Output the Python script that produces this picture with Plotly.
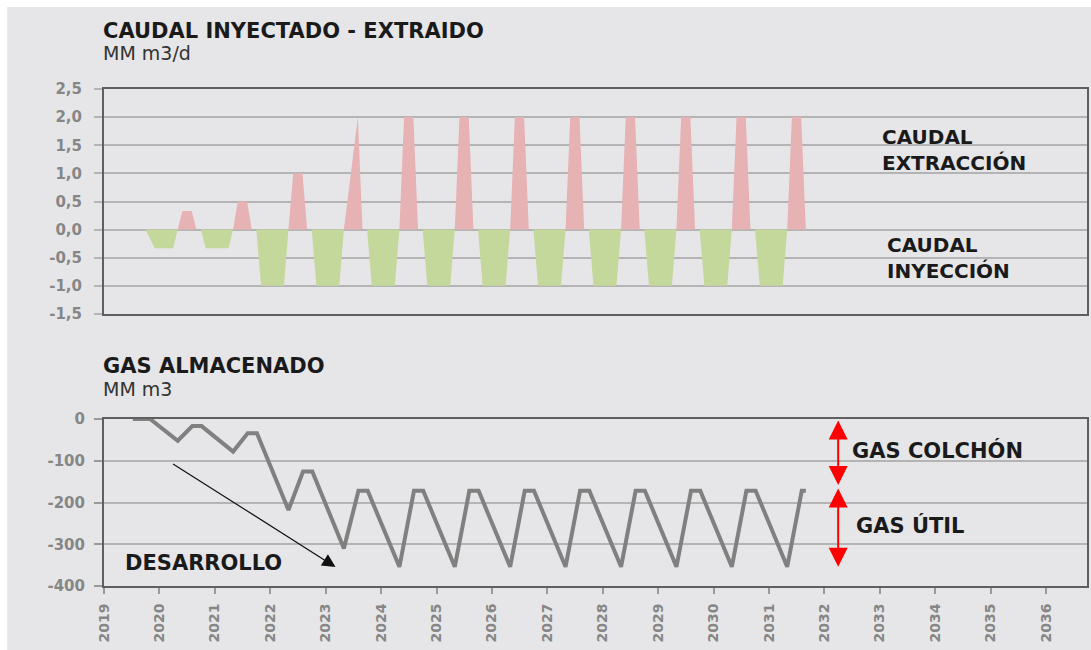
import pandas as pd
import plotly.graph_objects as go

# ---------------------------------------------------------------- data
# Monthly flow rates (MM m3/d), one row per gas year: Oct .. Sep
month_start = "2019-10-01"
month_end = "2031-09-01"

injection_rows = [
    [0, -0.17, -0.33, -0.33, -0.33, -0.33, -0.33, 0, 0, 0, 0, 0],   # 2019-20
    [0, -0.33, -0.33, -0.33, -0.33, -0.33, -0.33, 0, 0, 0, 0, 0],   # 2020-21
    [0, -1.0, -1.0, -1.0, -1.0, -1.0, -1.0, 0, 0, 0, 0, 0],         # 2021-22
    [0, -1.0, -1.0, -1.0, -1.0, -1.0, -1.0, 0, 0, 0, 0, 0],         # 2022-23
    [0, -1.0, -1.0, -1.0, -1.0, -1.0, -1.0, 0, 0, 0, 0, 0],         # 2023-24
    [0, -1.0, -1.0, -1.0, -1.0, -1.0, -1.0, 0, 0, 0, 0, 0],         # 2024-25
    [0, -1.0, -1.0, -1.0, -1.0, -1.0, -1.0, 0, 0, 0, 0, 0],         # 2025-26
    [0, -1.0, -1.0, -1.0, -1.0, -1.0, -1.0, 0, 0, 0, 0, 0],         # 2026-27
    [0, -1.0, -1.0, -1.0, -1.0, -1.0, -1.0, 0, 0, 0, 0, 0],         # 2027-28
    [0, -1.0, -1.0, -1.0, -1.0, -1.0, -1.0, 0, 0, 0, 0, 0],         # 2028-29
    [0, -1.0, -1.0, -1.0, -1.0, -1.0, -1.0, 0, 0, 0, 0, 0],         # 2029-30
    [0, -1.0, -1.0, -1.0, -1.0, -1.0, -1.0, 0, 0, 0, 0, 0],         # 2030-31
]

extraction_rows = [
    [0, 0, 0, 0, 0, 0, 0, 0, 0.33, 0.33, 0.33, 0],   # 2019-20
    [0, 0, 0, 0, 0, 0, 0, 0, 0.5, 0.5, 0.5, 0],      # 2020-21
    [0, 0, 0, 0, 0, 0, 0, 0, 1.0, 1.0, 1.0, 0],      # 2021-22
    [0, 0, 0, 0, 0, 0, 0, 0, 0.67, 1.33, 2.0, 0],    # 2022-23
    [0, 0, 0, 0, 0, 0, 0, 0, 2.0, 2.0, 2.0, 0],      # 2023-24
    [0, 0, 0, 0, 0, 0, 0, 0, 2.0, 2.0, 2.0, 0],      # 2024-25
    [0, 0, 0, 0, 0, 0, 0, 0, 2.0, 2.0, 2.0, 0],      # 2025-26
    [0, 0, 0, 0, 0, 0, 0, 0, 2.0, 2.0, 2.0, 0],      # 2026-27
    [0, 0, 0, 0, 0, 0, 0, 0, 2.0, 2.0, 2.0, 0],      # 2027-28
    [0, 0, 0, 0, 0, 0, 0, 0, 2.0, 2.0, 2.0, 0],      # 2028-29
    [0, 0, 0, 0, 0, 0, 0, 0, 2.0, 2.0, 2.0, 0],      # 2029-30
    [0, 0, 0, 0, 0, 0, 0, 0, 2.0, 2.0, 2.0, 0],      # 2030-31
]

# Stored gas (MM m3), turning points of the curve
gas_dates = [
    "2019-07-10", "2019-11-01",
    "2020-05-01", "2020-08-05", "2020-10-05",
    "2021-05-01", "2021-08-05", "2021-10-05",
    "2022-05-01", "2022-08-05", "2022-10-05",
    "2023-05-01", "2023-08-05", "2023-10-05",
    "2024-05-01", "2024-08-05", "2024-10-05",
    "2025-05-01", "2025-08-05", "2025-10-05",
    "2026-05-01", "2026-08-05", "2026-10-05",
    "2027-05-01", "2027-08-05", "2027-10-05",
    "2028-05-01", "2028-08-05", "2028-10-05",
    "2029-05-01", "2029-08-05", "2029-10-05",
    "2030-05-01", "2030-08-05", "2030-10-05",
    "2031-05-01", "2031-08-05", "2031-09-01",
]
gas_values = [
    0, 0,
    -52, -17, -17,
    -78, -34, -34,
    -218, -126, -126,
    -310, -172, -172,
    -354, -172, -172,
    -354, -172, -172,
    -354, -172, -172,
    -354, -172, -172,
    -354, -172, -172,
    -354, -172, -172,
    -354, -172, -172,
    -354, -172, -172,
]

# Cushion / working gas brackets (MM m3)
bracket_date = "2032-04-01"
colchon_span = [0, -158]
util_span = [-163, -354]

# Axis ticks
year_labels = ["2019", "2020", "2021", "2022", "2023", "2024", "2025", "2026", "2027",
               "2028", "2029", "2030", "2031", "2032", "2033", "2034", "2035", "2036"]
flow_ticks = [2.5, 2.0, 1.5, 1.0, 0.5, 0.0, -0.5, -1.0, -1.5]
flow_labels = ["2,5", "2,0", "1,5", "1,0", "0,5", "0,0", "-0,5", "-1,0", "-1,5"]
gas_ticks = [0, -100, -200, -300, -400]
gas_labels = ["0", "-100", "-200", "-300", "-400"]

# ---------------------------------------------------------------- layout helpers
W, H = 1091, 650
ML, MR, MT, MB = 104, 2, 89, 64
PW = W - ML - MR
PH = H - MT - MB


def pxx(x):
    return (x - ML) / PW


def pxy(y):
    return (H - MB - y) / PH


BG = "#e6e6e8"
GRID = "#b4b4b4"
FRAME = "#5f5f5f"
TICKC = "#868686"
FONT = "DejaVu Sans"

months = pd.date_range(month_start, month_end, freq="MS")
injection = [v for row in injection_rows for v in row]
extraction = [v for row in extraction_rows for v in row]
x_range = ["2019-01-01", "2036-09-27"]
year_ticks = [f"{y}-01-01" for y in year_labels]

fig = go.Figure()

fig.add_trace(go.Scatter(
    x=months, y=extraction, mode="lines", fill="tozeroy",
    fillcolor="#e6b2b4", line=dict(width=0, color="#e6b2b4"),
    xaxis="x", yaxis="y", hoverinfo="skip", showlegend=False))
fig.add_trace(go.Scatter(
    x=months, y=injection, mode="lines", fill="tozeroy",
    fillcolor="#c5d89c", line=dict(width=0, color="#c5d89c"),
    xaxis="x", yaxis="y", hoverinfo="skip", showlegend=False))
fig.add_trace(go.Scatter(
    x=pd.to_datetime(gas_dates), y=gas_values, mode="lines",
    line=dict(width=4, color="#808080"),
    xaxis="x2", yaxis="y2", hoverinfo="skip", showlegend=False))

tickfont = dict(family=FONT, size=14, color=TICKC, weight="bold")

fig.update_layout(
    width=W, height=H,
    margin=dict(l=ML, r=MR, t=MT, b=MB, pad=0),
    paper_bgcolor="white", plot_bgcolor=BG,
    showlegend=False,
    xaxis=dict(
        domain=[0, 1], anchor="y", type="date", range=x_range,
        showticklabels=False, ticks="", showgrid=False, zeroline=False,
        showline=True, mirror=True, linecolor=FRAME, linewidth=2),
    yaxis=dict(
        domain=[pxy(314), 1], anchor="x", range=[-1.5, 2.5],
        tickmode="array", tickvals=flow_ticks, ticktext=flow_labels,
        tickfont=dict(tickfont, size=15), ticks="outside", ticklen=8, tickcolor=GRID,
        tickwidth=2, ticklabelstandoff=9,
        showgrid=True, gridcolor=GRID, gridwidth=2, zeroline=False,
        showline=True, mirror=True, linecolor=FRAME, linewidth=2),
    xaxis2=dict(
        domain=[0, 1], anchor="y2", type="date", range=x_range,
        tickmode="array", tickvals=year_ticks, ticktext=year_labels,
        tickangle=-90, tickfont=tickfont, ticks="outside", ticklen=6,
        tickcolor="#9a9a9a", tickwidth=1.5, ticklabelstandoff=4,
        showgrid=False, zeroline=False,
        showline=True, mirror=True, linecolor=FRAME, linewidth=2),
    yaxis2=dict(
        domain=[0, pxy(419)], anchor="x2", range=[-400, 0],
        tickmode="array", tickvals=gas_ticks, ticktext=gas_labels,
        tickfont=dict(tickfont, size=15), ticks="outside", ticklen=8, tickcolor="#9a9a9a",
        tickwidth=1.5, ticklabelstandoff=6,
        showgrid=True, gridcolor=GRID, gridwidth=1.5, zeroline=False,
        showline=True, mirror=True, linecolor=FRAME, linewidth=2),
)

# page background with thin white border at top/left
fig.add_shape(type="rect", xref="paper", yref="paper",
              x0=pxx(7), x1=pxx(W + 5), y0=pxy(H + 5), y1=pxy(7),
              fillcolor=BG, line=dict(width=0), layer="below")


def label(text, x, y, size, bold=True, color="#1a1a1a", anchor="left"):
    fig.add_annotation(
        text=text, xref="paper", yref="paper", x=pxx(x), y=pxy(y),
        xanchor=anchor, yanchor="middle", showarrow=False, align="left",
        font=dict(family=FONT, size=size, color=color,
                  weight="bold" if bold else "normal"))


label("CAUDAL INYECTADO - EXTRAIDO", 101, 31, 21)
label("MM m3/d", 101, 53, 19, bold=False, color="#333333")
label("GAS ALMACENADO", 101, 366, 21)
label("MM m3", 101, 389, 19, bold=False, color="#333333")

label("CAUDAL<br>EXTRACCIÓN", 882, 150, 20)
label("CAUDAL<br>INYECCIÓN", 887, 258, 20)
label("GAS COLCHÓN", 852, 450, 21)
label("GAS ÚTIL", 856, 525, 21)
label("DESARROLLO", 123, 563, 21)

# development trend arrow
fig.add_annotation(
    xref="paper", yref="paper", x=pxx(336), y=pxy(567),
    ax=172 - 336, ay=463 - 567, text="", showarrow=True,
    arrowhead=2, arrowsize=2.2, arrowwidth=1.2, arrowcolor="#111111", standoff=0)

# cushion / working gas brackets
for span in (colchon_span, util_span):
    fig.add_annotation(
        xref="x2", yref="y2", axref="x2", ayref="y2",
        x=bracket_date, y=span[1], ax=bracket_date, ay=span[0],
        text="", showarrow=True, arrowside="end+start",
        arrowhead=2, arrowsize=1.9, arrowwidth=2, arrowcolor="#ff0000",
        standoff=0, startstandoff=0)

fig.write_html("out.html")
